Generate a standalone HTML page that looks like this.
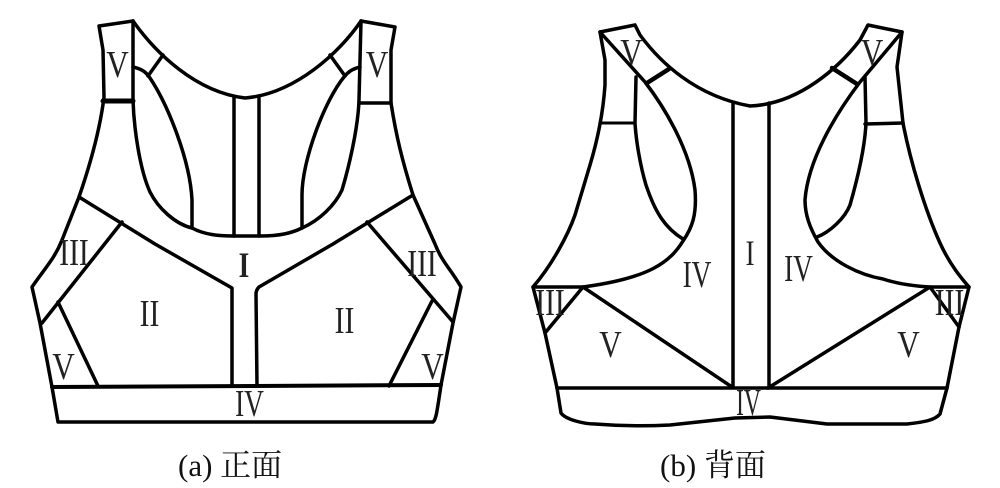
<!DOCTYPE html>
<html><head><meta charset="utf-8">
<style>
html,body{margin:0;padding:0;background:#fff;width:1000px;height:488px;overflow:hidden}
svg{display:block}
text{font-family:"Liberation Serif","Noto Serif CJK SC",serif;fill:#222}
.l{font-size:38px;text-anchor:middle}
.c{font-size:31px;fill:#111}
path{fill:none;stroke:#000;stroke-width:3.5;stroke-linejoin:round;stroke-linecap:round}
</style></head>
<body>
<svg width="1000" height="488" viewBox="0 0 1000 488" xmlns="http://www.w3.org/2000/svg">
<!-- front garment -->
<path d="M133,21 L99,26 L103,50 L104,97 C100,130 90,165 79,197 L62,240 C55,258 45,268 32,287 L40,323 L52,387 L58,422 L433,422 C436,420 437,412 441,385 L453,323 L461,287 C450,268 442,262 435,244 L413,195 C402,160 396,135 391,103 L391,50 L395,27 L361,21"/>
<path d="M133,21 C155,52 195,92 245,98 C295,94 340,52 361,21"/>
<path d="M133,21 L133,100 C134,130 140,170 150,192 C158,208 175,224 192,228 C205,235 220,236 233,236 L260,236 C280,236 292,233 302,228 C320,220 335,205 342,190 C348,170 358,130 359,100 L361,21" />
<path d="M234,97 L234,236 M259,98 L259,236"/>
<path d="M163,55 L148,76 M330,55 L345,76"/>
<path d="M133,67 C142,69 146,72 150,78 C168,105 190,160 192,200 L192,228"/>
<path d="M360,67 C352,69 348,72 344,77 C325,100 302,160 302,195 L302,228"/>
<path d="M103,101 L133,101" style="stroke-width:5"/>
<path d="M361,103 L391,103"/>
<path d="M79,197 L155,244 L232,288 L232,386"/>
<path d="M413,195 L333,244 L259,287 C257,289 256,291 256,294 L257,386"/>
<path d="M122,222 L42,323 M58,302 L98,386"/>
<path d="M367,222 L453,322 M432,301 L389,386"/>
<path d="M52,387 L441,385" style="stroke-width:4"/>
<!-- back garment -->
<path d="M635,25 L600,32 L605,60 L605,85 C603,115 596,145 590,165 L575,215 C568,235 552,265 533,287 L545,333 L557,388 L561,413 C566,420 585,424 595,424 C620,426 650,426 670,425 L735,418 L770,417 L827,424 L907,424 C925,422 935,420 940,414 L947,388 L959,327 L969,287 C962,279 950,265 940,243 C925,210 910,160 903,123 L897,67 L902,32 L868,25 L860,40 C840,66 800,104 750,106 C695,96 660,62 640,35 L635,25"/>
<path d="M600,32 L645,82 C665,108 690,150 695,190 C697,215 692,228 683,241 C670,262 650,278 583,287 L533,287"/>
<path d="M636,77 L635,123 C636,140 640,165 646,185 C655,212 665,228 683,239"/>
<path d="M600,123 L635,123" style="stroke-width:3"/>
<path d="M647,83 L669,69" style="stroke-width:4.5"/>
<path d="M583,287 L545,333 M583,287 L732,387"/>
<path d="M557,388 L947,388"/>
<path d="M733,104 L733,387 M769,103 L769,387"/>
<path d="M768,388 L930,287 L969,287 M930,287 L959,327"/>
<path d="M902,32 L860,82 C835,115 808,160 805,200 C805,215 810,228 818,242 C832,262 860,275 883,279 C895,283 912,286 930,287"/>
<path d="M865,77 L866,123 C865,145 860,170 850,205 C845,218 830,232 817,237"/>
<path d="M832,68 L857,84" style="stroke-width:4.5"/>
<path d="M865,124 L903,123"/>
<!-- labels front -->
<text class="l" transform="translate(117.500,77) scale(.82,1)">V</text>
<text class="l" transform="translate(377,77) scale(.82,1)">V</text>
<text class="l" transform="translate(74,265) scale(.78,1)">III</text>
<text class="l" transform="translate(422,276) scale(.78,1)">III</text>
<text class="l" transform="translate(149.500,326) scale(.78,1)">II</text>
<text class="l" transform="translate(344.500,333) scale(.78,1)">II</text>
<text class="l" transform="translate(63.500,379) scale(.82,1)">V</text>
<text class="l" transform="translate(432.500,379) scale(.82,1)">V</text>
<text class="l" style="font-weight:bold" transform="translate(244,277) scale(.72,.95)">I</text>
<text class="l" transform="translate(249.500,416) scale(.72,1)">IV</text>
<!-- labels back -->
<text class="l" transform="translate(631.500,65) scale(.82,1)">V</text>
<text class="l" transform="translate(872,65) scale(.82,1)">V</text>
<text class="l" transform="translate(750,265) scale(.72,.95)">I</text>
<text class="l" transform="translate(697,287) scale(.72,1)">IV</text>
<text class="l" transform="translate(798.500,281) scale(.72,1)">IV</text>
<text class="l" transform="translate(550,315) scale(.78,1)">III</text>
<text class="l" transform="translate(949.500,315) scale(.78,1)">III</text>
<text class="l" transform="translate(610.500,357) scale(.82,1)">V</text>
<text class="l" transform="translate(908.500,357) scale(.82,1)">V</text>
<text class="l" transform="translate(748.500,415) scale(.62,1)">IV</text>
<!-- captions -->
<text class="c" x="178" y="476">(a) 正面</text>
<text class="c" x="660" y="476">(b) 背面</text>
</svg>
</body></html>
